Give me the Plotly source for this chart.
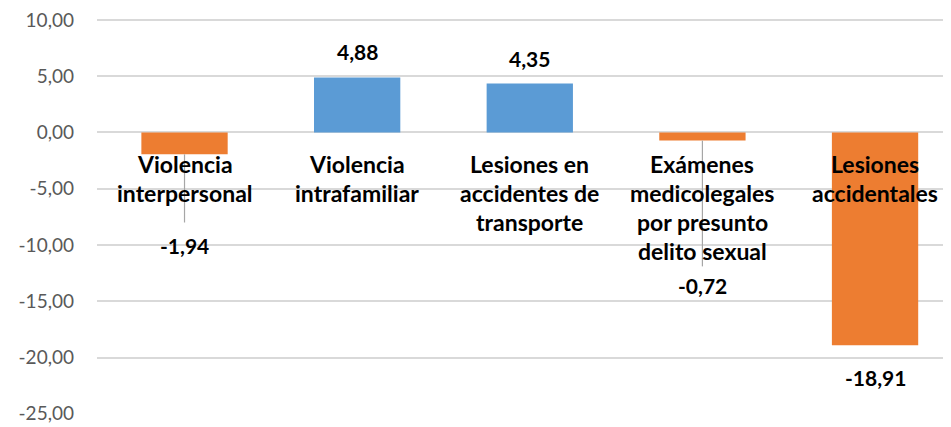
import plotly.graph_objects as go

categories = ["Violencia<br>interpersonal", "Violencia<br>intrafamiliar",
              "Lesiones en<br>accidentes de<br>transporte",
              "Exámenes<br>medicolegales<br>por presunto<br>delito sexual",
              "Lesiones<br>accidentales"]
values = [-1.94, 4.88, 4.35, -0.72, -18.91]
value_labels = ["-1,94", "4,88", "4,35", "-0,72", "-18,91"]
label_y = [-10.0, 7.2, 6.6, -13.6, -21.8]   # where Excel placed the data labels
leader_end = [-8.0, None, None, -11.9, None]
tick_vals = [10, 5, 0, -5, -10, -15, -20, -25]
tick_text = ["10,00", "5,00", "0,00", "-5,00", "-10,00", "-15,00", "-20,00", "-25,00"]

ORANGE = "#ed7d31"
BLUE = "#5b9bd5"
FONT = "Lato"

x = list(range(len(values)))
colors = [BLUE if v > 0 else ORANGE for v in values]

fig = go.Figure()
fig.add_trace(go.Bar(x=x, y=values, width=0.5, marker=dict(color=colors, line=dict(width=0)),
                     hoverinfo="skip"))

# leader lines
for i, (v, e) in enumerate(zip(values, leader_end)):
    if e is not None:
        fig.add_shape(type="line", x0=i, x1=i, y0=v, y1=e, xref="x", yref="y",
                      line=dict(color="#a6a6a6", width=1.2), layer="above")

# data labels
for i, (t, ly) in enumerate(zip(value_labels, label_y)):
    fig.add_annotation(x=i, y=ly, text="<b>" + t + "</b>", showarrow=False, xref="x", yref="y",
                       font=dict(family=FONT, size=21, color="#000000"), yanchor="middle")

# category labels next to axis (one annotation per line for Excel-like spacing)
for i, c in enumerate(categories):
    for k, line in enumerate(c.split("<br>")):
        fig.add_annotation(x=i, y=0, text="<b>" + line + "</b>", showarrow=False,
                           xref="x", yref="y", yanchor="middle", yshift=-(32 + 29 * k),
                           font=dict(family=FONT, size=23, color="#000000"))

fig.update_layout(
    width=943, height=419,
    margin=dict(l=89, r=0, t=4, b=13),
    paper_bgcolor="white", plot_bgcolor="white",
    showlegend=False,
    xaxis=dict(range=[-0.507, 4.44], showticklabels=False, showgrid=False, zeroline=False,
               showline=False, fixedrange=True),
    yaxis=dict(range=[-25.02, 10.53], tickvals=tick_vals, ticktext=tick_text, showgrid=True,
               gridcolor="#d9d9d9", gridwidth=1.5, zeroline=False, showline=False,
               tickfont=dict(family=FONT, size=19, color="#595959"), ticks="",
               ticklabelstandoff=22, ticklabeloverflow="allow", fixedrange=True),
)
fig.write_html("out.html")
